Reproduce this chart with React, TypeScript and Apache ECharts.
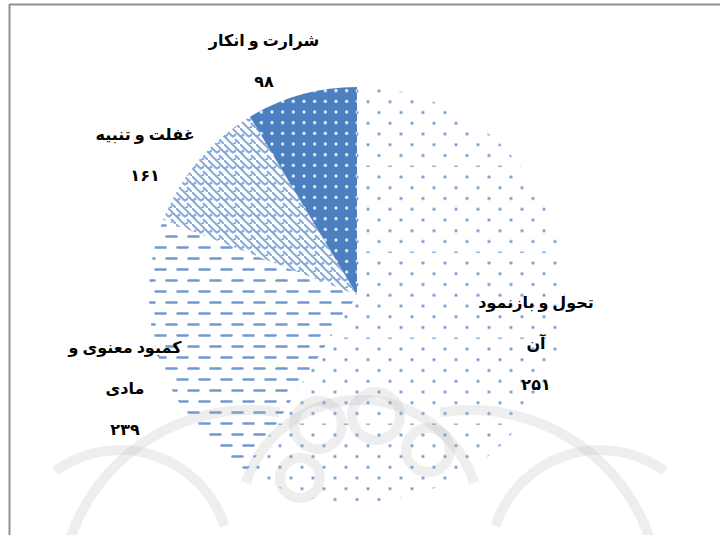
import React, { useEffect, useRef } from 'react';
import * as echarts from 'echarts';

// Categories (slice order clockwise from 12 o'clock)
const categories = ['تحول و بازنمود\nآن', 'کمبود معنوی و\nمادی', 'غفلت و تنبیه', 'شرارت و انکار'];
// Values printed in the labels
const labelValues = [251, 239, 161, 98];
// Angular share of each slice as drawn in the picture (%)
const sliceShares = [58.9, 22.0, 10.5, 8.6];

const toFa = (n: number) => String(n).replace(/\d/g, (d) => '۰۱۲۳۴۵۶۷۸۹'[+d]);

function makeTile(w: number, h: number, draw: (ctx: CanvasRenderingContext2D) => void) {
  const c = document.createElement('canvas');
  c.width = w;
  c.height = h;
  const ctx = c.getContext('2d') as CanvasRenderingContext2D;
  draw(ctx);
  return { image: c.toDataURL(), imageWidth: w, imageHeight: h, repeat: 'repeat' };
}

function buildPatterns() {
  // light dots on white
  const dotted = makeTile(22, 86, (ctx) => {
    ctx.fillStyle = '#ffffff';
    ctx.fillRect(0, 0, 22, 86);
    for (let r = 0; r < 8; r++) {
      const y = r * 10.75 + 5;
      const x = r % 2 === 0 ? 5 : 16;
      if (r === 7) {
        ctx.fillStyle = '#9ab8e2';
        ctx.fillRect(x - 2, y - 0.8, 4, 1.6);
      } else {
        ctx.fillStyle = '#b9cfee';
        ctx.beginPath();
        ctx.arc(x, y, 2, 0, Math.PI * 2);
        ctx.fill();
        ctx.fillStyle = '#6f98d2';
        ctx.beginPath();
        ctx.arc(x, y, 1.1, 0, Math.PI * 2);
        ctx.fill();
      }
    }
  });
  // horizontal dashes on white
  const dashed = makeTile(22, 22, (ctx) => {
    ctx.fillStyle = '#ffffff';
    ctx.fillRect(0, 0, 22, 22);
    ctx.strokeStyle = '#7299d2';
    ctx.lineWidth = 2.6;
    ctx.lineCap = 'round';
    ctx.beginPath();
    ctx.moveTo(1.5, 5.5);
    ctx.lineTo(11.5, 5.5);
    ctx.moveTo(12.5, 16.5);
    ctx.lineTo(22.5, 16.5);
    ctx.moveTo(-9.5, 16.5);
    ctx.lineTo(0.5, 16.5);
    ctx.stroke();
  });
  // weave-like hatch
  const weave = makeTile(16, 16, (ctx) => {
    ctx.fillStyle = '#ffffff';
    ctx.fillRect(0, 0, 16, 16);
    ctx.strokeStyle = '#86aadb';
    ctx.lineWidth = 2;
    ctx.beginPath();
    ctx.moveTo(-1, -1);
    ctx.lineTo(9, 9);
    ctx.moveTo(7, -1);
    ctx.lineTo(17, 9);
    ctx.moveTo(-1, 7);
    ctx.lineTo(9, 17);
    ctx.moveTo(9, 9);
    ctx.lineTo(12, 6);
    ctx.moveTo(1, 9);
    ctx.lineTo(4, 6);
    ctx.moveTo(9, 17);
    ctx.lineTo(12, 14);
    ctx.moveTo(11, 11);
    ctx.lineTo(17, 17);
    ctx.stroke();
  });
  // solid blue with white dots
  const darkDots = makeTile(32, 32, (ctx) => {
    ctx.fillStyle = '#4c7fbf';
    ctx.fillRect(0, 0, 32, 32);
    const pos = [5.3, 16, 26.7];
    for (const y of pos) {
      for (const x of pos) {
        ctx.fillStyle = '#a9c3e6';
        ctx.beginPath();
        ctx.arc(x, y, 1.9, 0, Math.PI * 2);
        ctx.fill();
        ctx.fillStyle = '#f4f8fd';
        ctx.beginPath();
        ctx.arc(x, y, 1.1, 0, Math.PI * 2);
        ctx.fill();
      }
    }
  });
  return [dotted, dashed, weave, darkDots];
}

// label block centres
const labelAnchors: [number, number][] = [
  [536, 343],
  [125, 388],
  [145, 155],
  [264, 61],
];

export default function App() {
  const ref = useRef<HTMLDivElement>(null);
  useEffect(() => {
    if (!ref.current) return;
    const chart = echarts.init(ref.current, undefined, { renderer: 'svg' });
    const patterns = buildPatterns();
    const wm = 'rgba(170,170,170,0.2)';
    const wmItems: any[] = [
      { type: 'circle', shape: { cx: 318, cy: 425, r: 24 } },
      { type: 'circle', shape: { cx: 376, cy: 416, r: 24 } },
      { type: 'circle', shape: { cx: 428, cy: 450, r: 22 } },
      { type: 'circle', shape: { cx: 300, cy: 478, r: 20 } },
      { type: 'arc', shape: { cx: 250, cy: 600, r: 190, startAngle: Math.PI * 1.05, endAngle: Math.PI * 1.55 } },
      { type: 'arc', shape: { cx: 470, cy: 600, r: 190, startAngle: Math.PI * 1.45, endAngle: Math.PI * 1.95 } },
      { type: 'arc', shape: { cx: 360, cy: 520, r: 120, startAngle: Math.PI * 1.1, endAngle: Math.PI * 1.9 } },
      { type: 'arc', shape: { cx: 120, cy: 560, r: 110, startAngle: Math.PI * 1.3, endAngle: Math.PI * 1.9 } },
      { type: 'arc', shape: { cx: 600, cy: 560, r: 110, startAngle: Math.PI * 1.1, endAngle: Math.PI * 1.7 } },
    ].map((e) => ({ ...e, silent: true, z: 100, style: { fill: 'none', stroke: wm, lineWidth: 10 } }));

    chart.setOption({
      animation: false,
      backgroundColor: '#ffffff',
      graphic: [
        { type: 'line', shape: { x1: 9, y1: 4.5, x2: 720, y2: 4.5 }, style: { stroke: '#8f8f8f', lineWidth: 2 }, silent: true },
        { type: 'line', shape: { x1: 9.5, y1: 4, x2: 9.5, y2: 535 }, style: { stroke: '#8f8f8f', lineWidth: 2 }, silent: true },
        ...wmItems,
      ],
      series: [
        {
          type: 'pie',
          center: [357, 295],
          radius: 208,
          startAngle: 90,
          clockwise: true,
          avoidLabelOverlap: false,
          silent: true,
          emphasis: { disabled: true },
          itemStyle: { borderWidth: 0 },
          data: categories.map((name, i) => ({
            name,
            value: sliceShares[i],
            itemStyle: { color: patterns[i] as any },
          })),
          label: {
            show: true,
            formatter: (p: any) => `${p.name}\n${toFa(labelValues[p.dataIndex])}`,
            color: '#000000',
            fontWeight: 'bold',
            fontSize: 16,
            lineHeight: 41,
            align: 'center',
            fontFamily: '"Liberation Serif", "DejaVu Sans", serif',
          },
          labelLine: { show: false },
          labelLayout: (p: any) => ({
            x: labelAnchors[p.dataIndex][0],
            y: labelAnchors[p.dataIndex][1],
            align: 'center',
            verticalAlign: 'middle',
          }),
        },
      ],
    });
    return () => chart.dispose();
  }, []);
  return <div ref={ref} style={{ position: 'absolute', left: 0, top: 0, width: 720, height: 535 }} />;
}
